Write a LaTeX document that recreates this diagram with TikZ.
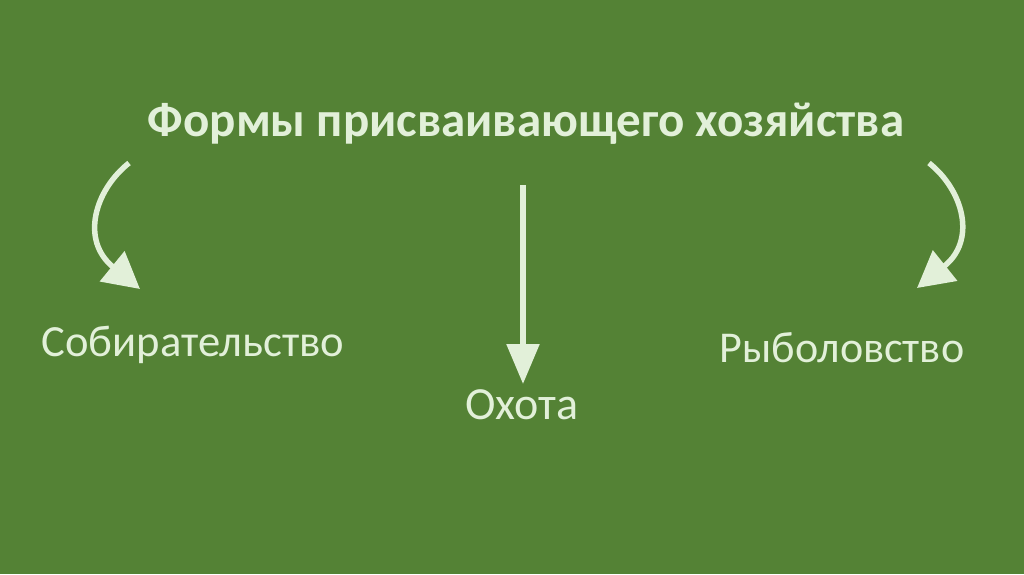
\documentclass[tikz,border=0pt]{standalone}
\usepackage{fontspec}
\setmainfont{Carlito}
\usetikzlibrary{arrows.meta}
\definecolor{slidegreen}{HTML}{548235}
\definecolor{palegreen}{HTML}{E2F0D9}
\begin{document}
\begin{tikzpicture}[x=1pt, y=-1pt,
		label/.style={text=palegreen, inner sep=0pt, anchor=base},
		arrow/.style={draw=palegreen, line width=5.5pt, -{Triangle[length=36pt, width=38pt]}}]
		% Background
		\fill[slidegreen] (0,0) rectangle (1024,574);
		\useasboundingbox (0,0) rectangle (1024,574);
		
		% Nodes
		\node[label, font=\fontsize{49}{58}\selectfont\bfseries] (title) at (526,136) {Формы присваивающего хозяйства};
		\node[label, font=\fontsize{44.6}{52}\selectfont] (gather) at (193,356) {Собирательство};
		\node[label, font=\fontsize{46}{54}\selectfont] (hunt) at (522,419) {Охота};
		\node[label, font=\fontsize{44}{52}\selectfont] (fish) at (842,362) {Рыболовство};
		
		% Arrow ends
		\coordinate (gatherS) at (129,163);
		\coordinate (gatherE) at (140,289);
		\coordinate (huntS) at (523,185);
		\coordinate (huntE) at (523,384);
		\coordinate (fishS) at (929,163);
		\coordinate (fishE) at (917,288);
		
		% Arrows
		\draw[arrow] (gatherS) .. controls (95,190) and (80,240) .. (gatherE);
		\draw[arrow, -{Triangle[length=40pt, width=32pt]}] (huntS) -- (huntE);
		\draw[arrow] (fishS) .. controls (963,190) and (977,240) .. (fishE);
	\end{tikzpicture}
\end{document}
